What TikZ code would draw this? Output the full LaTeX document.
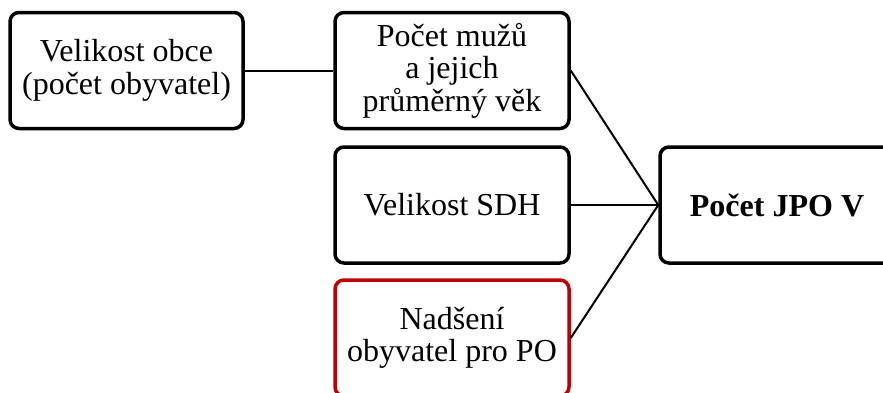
\documentclass[tikz,border=0pt]{standalone}
\usepackage{fontspec}
\setmainfont{Liberation Serif}
\begin{document}
\begin{tikzpicture}[x=1pt,y=-1pt,
  box/.style={draw=black,line width=3.5pt,rounded corners=9pt,fill=white,
    minimum width=234pt,minimum height=116pt,align=center,inner sep=2pt,
    font=\fontsize{32}{32.5}\selectfont},
  redbox/.style={box,draw={rgb,255:red,192;green,0;blue,0}},
  conn/.style={line width=2pt,black}]
\clip (0,0) rectangle (883,392);
\fill[white] (0,0) rectangle (883,392);
\node[box,minimum width=233pt] (obec) at (126.5,70.5) {Velikost obce\\(počet obyvatel)};
\node[box] (muzi) at (452,70.5) {Počet mužů\\a jejich\\průměrný věk};
\node[box] (sdh) at (452,205) {Velikost SDH};
\node[redbox] (nad) at (452,338) {Nadšení\\obyvatel pro PO};
\node[box] (jpo) at (777,205) {\textbf{Počet JPO V}};
\draw[conn] (obec.east) -- (muzi.west);
\draw[conn] (muzi.east) -- (jpo.west);
\draw[conn] (sdh.east) -- (jpo.west);
\draw[conn] (nad.east) -- (jpo.west);
\end{tikzpicture}
\end{document}
